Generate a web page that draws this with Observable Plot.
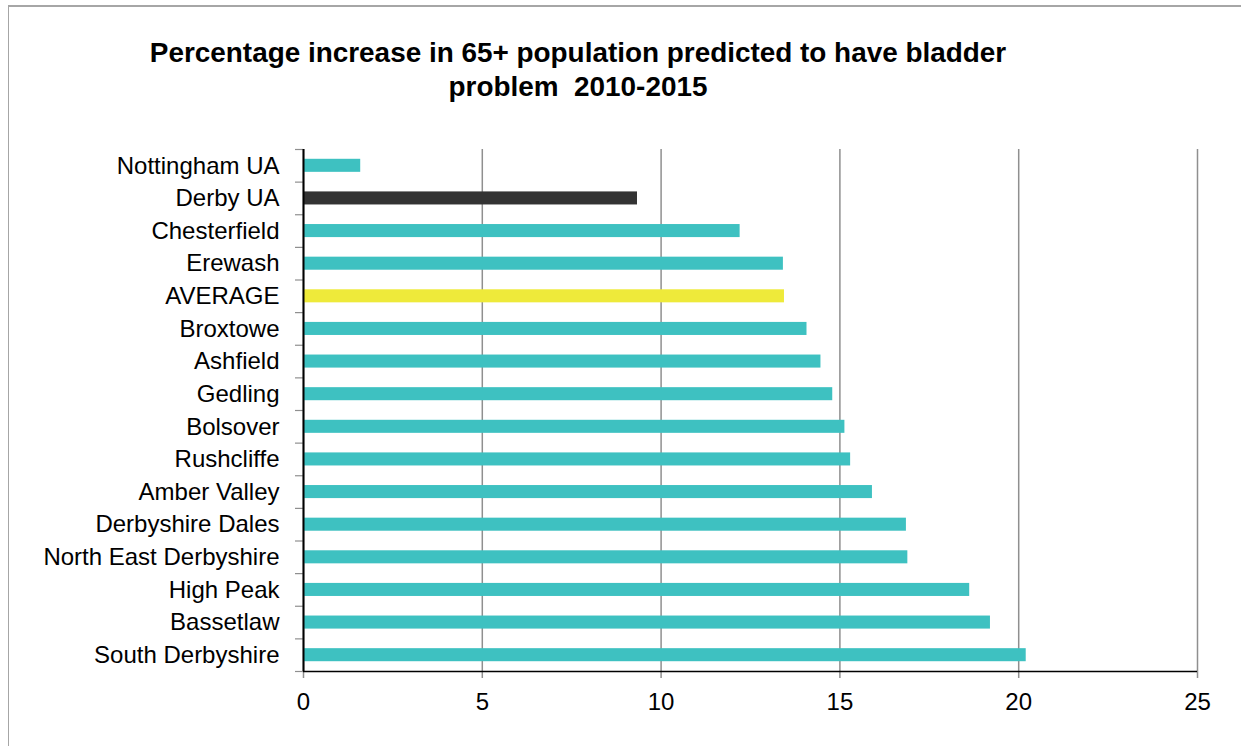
<!DOCTYPE html>
<html>
<head>
<meta charset="utf-8">
<script src="https://cdn.jsdelivr.net/npm/d3@7"></script>
<script src="https://cdn.jsdelivr.net/npm/@observablehq/plot@0.6"></script>
<style>
  html, body { margin: 0; padding: 0; background: #fff; }
  body { width: 1241px; height: 746px; position: relative; overflow: hidden; font-family: "Liberation Sans", Arial, sans-serif; }
  #frame { position: absolute; left: 8px; top: 5px; width: 1260px; height: 780px; border-left: 1.5px solid #a6a6a6; border-top: 2px solid #a6a6a6; }
  #title { position: absolute; left: 78px; width: 1000px; top: 36px; text-align: center; font-weight: bold; font-size: 27.9px; line-height: 34px; color: #000; }
  #chart { position: absolute; left: 0; top: 120px; }
</style>
</head>
<body>
<div id="frame"></div>
<div id="title">Percentage increase in 65+ population predicted to have bladder<br>problem&nbsp; 2010-2015</div>
<div id="chart"></div>
<script>
// Districts, top to bottom
const categories = [
  "Nottingham UA", "Derby UA", "Chesterfield", "Erewash", "AVERAGE",
  "Broxtowe", "Ashfield", "Gedling", "Bolsover", "Rushcliffe",
  "Amber Valley", "Derbyshire Dales", "North East Derbyshire",
  "High Peak", "Bassetlaw", "South Derbyshire"
];
// Percentage increase 2010-2015
const values = [
  1.6, 9.34, 12.21, 13.42, 13.45,
  14.08, 14.47, 14.8, 15.14, 15.3,
  15.91, 16.86, 16.9, 18.63, 19.21, 20.21
];
// Highlight group of each bar
const groups = [
  "area", "derby", "area", "area", "average",
  "area", "area", "area", "area", "area",
  "area", "area", "area", "area", "area", "area"
];
const xTicks = [0, 5, 10, 15, 20, 25];

const data = categories.map((name, i) => ({name, value: values[i], group: groups[i]}));

const W = 1241, H = 626;
const mL = 303, mR = 44, mT = 29, mB = 75;
const step = (H - mT - mB) / categories.length;
const last = categories[categories.length - 1];
const tickLen = 8 / ((W - mL - mR) / 25);

const chart = Plot.plot({
  width: W,
  height: H,
  marginLeft: mL,
  marginRight: mR,
  marginTop: mT,
  marginBottom: mB,
  style: {fontFamily: "'Liberation Sans', Arial, sans-serif", fontSize: "24px", color: "#000", background: "transparent", overflow: "visible"},
  x: {domain: [0, 25], ticks: xTicks, label: null},
  y: {domain: categories, paddingInner: 0.6, paddingOuter: 0.3, round: false, label: null},
  color: {domain: ["area", "derby", "average"], range: ["#3ec1c1", "#333333", "#eeea3a"]},
  marks: [
    // vertical gridlines
    Plot.gridX(xTicks, {stroke: "#8f8f8f", strokeOpacity: 1, strokeWidth: 1.5}),
    Plot.barX(data, {y: "name", x: "value", fill: "group"}),
    // category boundary ticks on the left of the y axis
    Plot.ruleY(categories, {y: d => d, x1: -tickLen, x2: 0, dy: -step / 2, stroke: "#8f8f8f", strokeWidth: 1.2}),
    Plot.ruleY([last], {y: d => d, x1: -tickLen, x2: 0, dy: step / 2, stroke: "#8f8f8f", strokeWidth: 1.2}),
    Plot.axisY({tickSize: 0, tickPadding: 24, label: null}),
    Plot.axisX({ticks: xTicks, tickSize: 7, tickPadding: 14, stroke: "#8f8f8f", strokeWidth: 1.5, fill: "#000", label: null}),
    // axis lines
    Plot.ruleY([last], {y: d => d, x1: 0, x2: 25, dy: step / 2, stroke: "#000", strokeWidth: 1.5}),
    Plot.ruleX([0], {stroke: "#000", strokeWidth: 2})
  ]
});

document.getElementById("chart").appendChild(chart);
</script>
</body>
</html>
